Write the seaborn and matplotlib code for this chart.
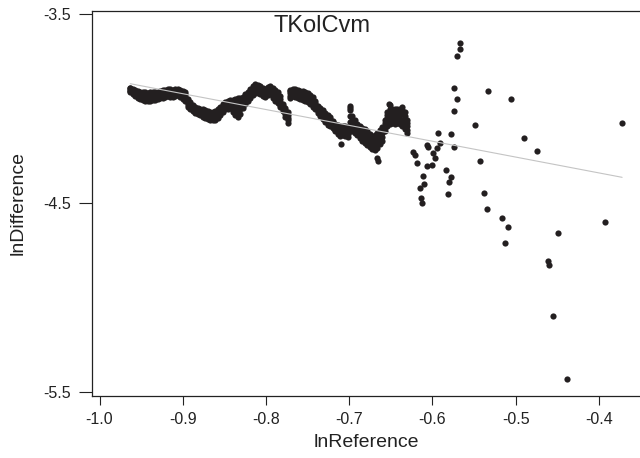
import numpy as np
import pandas as pd
import matplotlib
matplotlib.use("Agg")
import matplotlib.pyplot as plt
import seaborn as sns

# dense band: x positions with several rows across the point cloud (top to bottom)
band_x = [
    -0.963, -0.960, -0.957, -0.954, -0.951, -0.948, -0.945, -0.942, -0.939, -0.936,
    -0.933, -0.930, -0.927, -0.924, -0.921, -0.918, -0.915, -0.912, -0.909, -0.906,
    -0.903, -0.900, -0.897, -0.894, -0.891, -0.888, -0.885, -0.882, -0.879, -0.876,
    -0.873, -0.870, -0.867, -0.864, -0.861, -0.858, -0.855, -0.852, -0.849, -0.846,
    -0.843, -0.840, -0.837, -0.834, -0.831, -0.828, -0.825, -0.822, -0.819, -0.816,
    -0.813, -0.810, -0.807, -0.804, -0.801, -0.798, -0.795, -0.792, -0.789, -0.786,
    -0.783, -0.780, -0.777, -0.774, -0.771, -0.768, -0.765, -0.762, -0.759, -0.756,
    -0.753, -0.750, -0.747, -0.744, -0.741, -0.738, -0.735, -0.732, -0.729, -0.726,
    -0.723, -0.720, -0.717, -0.714, -0.711, -0.708, -0.705, -0.702, -0.699, -0.696,
    -0.693, -0.690, -0.687, -0.684, -0.681, -0.678, -0.675, -0.672, -0.669, -0.666,
    -0.663, -0.660, -0.657, -0.654, -0.651, -0.648, -0.645, -0.642, -0.639, -0.636,
    -0.633, -0.630,
]
band_upper = [
    -3.890, -3.895, -3.900, -3.905, -3.910, -3.915, -3.915, -3.920, -3.915, -3.910,
    -3.915, -3.910, -3.905, -3.900, -3.900, -3.895, -3.895, -3.900, -3.895, -3.895,
    -3.900, -3.905, -3.910, -3.950, -3.965, -3.980, -3.990, -3.995, -4.000, -4.005,
    -4.010, -4.015, -4.020, -4.020, -4.015, -4.005, -3.990, -3.975, -3.965, -3.960,
    -3.955, -3.955, -3.950, -3.945, -3.945, -3.940, -3.925, -3.910, -3.895, -3.880,
    -3.870, -3.875, -3.880, -3.890, -3.895, -3.885, -3.880, -3.890, -3.900, -3.915,
    -3.935, -3.975, -3.995, -4.020, -3.900, -3.895, -3.895, -3.900, -3.905, -3.905,
    -3.910, -3.920, -3.930, -3.940, -3.960, -3.985, -3.995, -4.010, -4.025, -4.035,
    -4.045, -4.065, -4.080, -4.085, -4.095, -4.090, -4.095, -4.100, -3.985, -4.040,
    -4.060, -4.080, -4.095, -4.105, -4.110, -4.120, -4.135, -4.150, -4.140, -4.130,
    -4.115, -4.100, -4.060, -4.020, -3.980, -4.000, -4.005, -4.005, -4.000, -3.990,
    -4.020, -4.060,
]
band_hi = [
    -3.893, -3.902, -3.909, -3.914, -3.921, -3.924, -3.928, -3.931, -3.924, -3.921,
    -3.926, -3.918, -3.916, -3.909, -3.911, -3.904, -3.906, -3.911, -3.904, -3.903,
    -3.908, -3.916, -3.921, -3.961, -3.974, -3.991, -3.996, -4.006, -4.009, -4.016,
    -4.019, -4.026, -4.029, -4.031, -4.026, -4.018, -3.999, -3.986, -3.974, -3.971,
    -3.964, -3.968, -3.968, -3.966, -3.961, -3.951, -3.939, -3.921, -3.909, -3.891,
    -3.881, -3.886, -3.889, -3.901, -3.904, -3.896, -3.889, -3.903, -3.914, -3.931,
    -3.949, -3.986, -4.006, -4.036, -3.909, -3.906, -3.904, -3.911, -3.914, -3.919,
    -3.921, -3.934, -3.941, -3.954, -3.969, -3.996, -4.006, -4.024, -4.036, -4.049,
    -4.056, -4.076, -4.089, -4.099, -4.106, -4.104, -4.106, -4.111, -3.996, -4.061,
    -4.079, -4.094, -4.111, -4.119, -4.129, -4.139, -4.156, -4.166, -4.161, -4.149,
    -4.131, -4.116, -4.074, -4.036, -4.004, -4.021, -4.024, -4.021, -4.019, -4.009,
    -4.041, -4.079,
]
band_mid = [
    -3.900, -3.910, -3.915, -3.925, -3.930, -3.935, -3.940, -3.940, -3.935, -3.935,
    -3.935, -3.930, -3.925, -3.920, -3.920, -3.915, -3.915, -3.920, -3.915, -3.910,
    -3.920, -3.925, -3.935, -3.970, -3.985, -4.000, -4.005, -4.015, -4.020, -4.025,
    -4.030, -4.035, -4.040, -4.040, -4.040, -4.030, -4.010, -3.995, -3.985, -3.980,
    -3.975, -3.980, -3.990, -3.985, -3.975, -3.965, -3.950, -3.935, -3.920, -3.905,
    -3.895, -3.895, -3.900, -3.910, -3.915, -3.905, -3.900, -3.915, -3.930, -3.945,
    -3.965, -3.995, -4.020, -4.050, -3.920, -3.915, -3.915, -3.920, -3.925, -3.930,
    -3.935, -3.945, -3.955, -3.965, -3.980, -4.005, -4.020, -4.035, -4.050, -4.060,
    -4.070, -4.085, -4.100, -4.110, -4.120, -4.115, -4.120, -4.125, -4.010, -4.080,
    -4.095, -4.110, -4.125, -4.135, -4.145, -4.160, -4.175, -4.185, -4.180, -4.170,
    -4.150, -4.130, -4.090, -4.050, -4.030, -4.040, -4.045, -4.040, -4.035, -4.030,
    -4.060, -4.095,
]
band_lo = [
    -3.906, -3.918, -3.926, -3.934, -3.941, -3.944, -3.951, -3.949, -3.946, -3.944,
    -3.946, -3.939, -3.936, -3.931, -3.929, -3.926, -3.927, -3.931, -3.924, -3.921,
    -3.931, -3.936, -3.949, -3.979, -3.996, -4.006, -4.016, -4.021, -4.029, -4.034,
    -4.041, -4.044, -4.051, -4.049, -4.051, -4.039, -4.024, -4.006, -3.996, -3.989,
    -3.986, -4.001, -4.014, -4.016, -4.004, -3.981, -3.964, -3.946, -3.934, -3.916,
    -3.906, -3.909, -3.911, -3.924, -3.926, -3.919, -3.911, -3.929, -3.946, -3.956,
    -3.979, -4.004, -4.031, -4.061, -3.934, -3.924, -3.929, -3.931, -3.939, -3.941,
    -3.946, -3.956, -3.964, -3.979, -3.991, -4.014, -4.031, -4.044, -4.061, -4.071,
    -4.084, -4.094, -4.111, -4.121, -4.134, -4.126, -4.134, -4.136, -4.041, -4.101,
    -4.114, -4.124, -4.141, -4.151, -4.164, -4.176, -4.191, -4.199, -4.201, -4.189,
    -4.169, -4.151, -4.104, -4.071, -4.054, -4.059, -4.061, -4.056, -4.059, -4.061,
    -4.084, -4.111,
]
band_lower = [
    -3.910, -3.925, -3.935, -3.945, -3.950, -3.955, -3.960, -3.960, -3.960, -3.955,
    -3.955, -3.950, -3.945, -3.945, -3.940, -3.935, -3.940, -3.940, -3.935, -3.930,
    -3.940, -3.950, -3.960, -3.990, -4.005, -4.015, -4.025, -4.030, -4.035, -4.045,
    -4.050, -4.055, -4.060, -4.060, -4.060, -4.050, -4.035, -4.020, -4.005, -4.000,
    -3.995, -4.020, -4.035, -4.045, -4.030, -3.995, -3.975, -3.960, -3.945, -3.930,
    -3.920, -3.920, -3.925, -3.935, -3.940, -3.930, -3.925, -3.945, -3.960, -3.970,
    -3.990, -4.015, -4.045, -4.075, -3.945, -3.935, -3.940, -3.945, -3.950, -3.955,
    -3.960, -3.965, -3.975, -3.990, -4.000, -4.025, -4.040, -4.055, -4.070, -4.085,
    -4.095, -4.105, -4.120, -4.135, -4.145, -4.140, -4.145, -4.150, -4.070, -4.120,
    -4.130, -4.140, -4.155, -4.170, -4.180, -4.195, -4.205, -4.215, -4.220, -4.210,
    -4.190, -4.170, -4.120, -4.090, -4.080, -4.075, -4.080, -4.075, -4.080, -4.090,
    -4.110, -4.130,
]

# loose points below the band
stray_x = [-0.710, -0.699, -0.667, -0.665, -0.671, -0.652]
stray_y = [-4.190, -4.120, -4.260, -4.280, -4.210, -3.976]

# scattered points on the right
tail_x = [
    -0.623, -0.621, -0.618, -0.606, -0.605, -0.599, -0.597, -0.600, -0.606,
    -0.593, -0.591, -0.595, -0.578, -0.574,
    -0.611, -0.610, -0.615, -0.614, -0.612,
    -0.584, -0.578, -0.580, -0.581,
    -0.567, -0.567, -0.570, -0.574, -0.570, -0.574,
    -0.533, -0.505, -0.372, -0.549, -0.490, -0.474,
    -0.543, -0.538, -0.534, -0.516, -0.509, -0.513,
    -0.449, -0.392, -0.461, -0.460, -0.455, -0.438,
]
tail_y = [
    -4.230, -4.246, -4.288, -4.193, -4.204, -4.235, -4.262, -4.299, -4.304,
    -4.130, -4.183, -4.210, -4.135, -4.204,
    -4.357, -4.399, -4.421, -4.474, -4.500,
    -4.325, -4.362, -4.389, -4.452,
    -3.653, -3.685, -3.722, -3.892, -3.950, -4.013,
    -3.907, -3.950, -4.077, -4.087, -4.156, -4.225,
    -4.278, -4.447, -4.532, -4.579, -4.627, -4.712,
    -4.659, -4.601, -4.807, -4.828, -5.098, -5.431,
]

x_ticks = [-1.0, -0.9, -0.8, -0.7, -0.6, -0.5, -0.4]
y_ticks = [-3.5, -4.5, -5.5]

df = pd.DataFrame({
    "lnReference": band_x * 5 + stray_x + tail_x,
    "lnDifference": band_upper + band_hi + band_mid + band_lo + band_lower
                    + stray_y + tail_y,
})

sns.set_style("ticks")
plt.rcParams["font.family"] = ["Liberation Sans", "DejaVu Sans"]

fig = plt.figure(figsize=(6.4, 4.58), dpi=100)
ax = fig.add_axes([0.1442, 0.136, 0.8558, 0.841])

sns.regplot(data=df, x="lnReference", y="lnDifference", ci=None, ax=ax,
            scatter_kws=dict(s=20, color="#231f20", linewidths=0, alpha=1),
            line_kws=dict(color="#c4c4c4", lw=0.8))

ax.set_xlim(-1.0087, -0.3505)
ax.set_ylim(-5.5196, -3.4815)
ax.set_xticks(x_ticks)
ax.set_yticks(y_ticks)
ax.set_xticklabels([f"{t:.1f}" for t in x_ticks])
ax.set_yticklabels([f"{t:.1f}" for t in y_ticks])
ax.tick_params(axis="x", length=6.5, width=0.8, pad=5, labelsize=11.5, colors="#222222")
ax.tick_params(axis="y", length=9.5, width=0.8, pad=6, labelsize=11.5, colors="#222222")

for side in ["left", "bottom", "top"]:
    ax.spines[side].set_visible(True)
    ax.spines[side].set_linewidth(0.9)
    ax.spines[side].set_color("#222222")
ax.spines["right"].set_visible(False)

ax.set_xlabel("lnReference", fontsize=14, labelpad=5, color="#222222")
ax.set_ylabel("lnDifference", fontsize=14, labelpad=12, color="#222222")

ax.text(0.42, 0.96, "TKolCvm", transform=ax.transAxes, ha="center", va="center",
        fontsize=17, color="#222222")

fig.savefig("out.png", dpi=100)
